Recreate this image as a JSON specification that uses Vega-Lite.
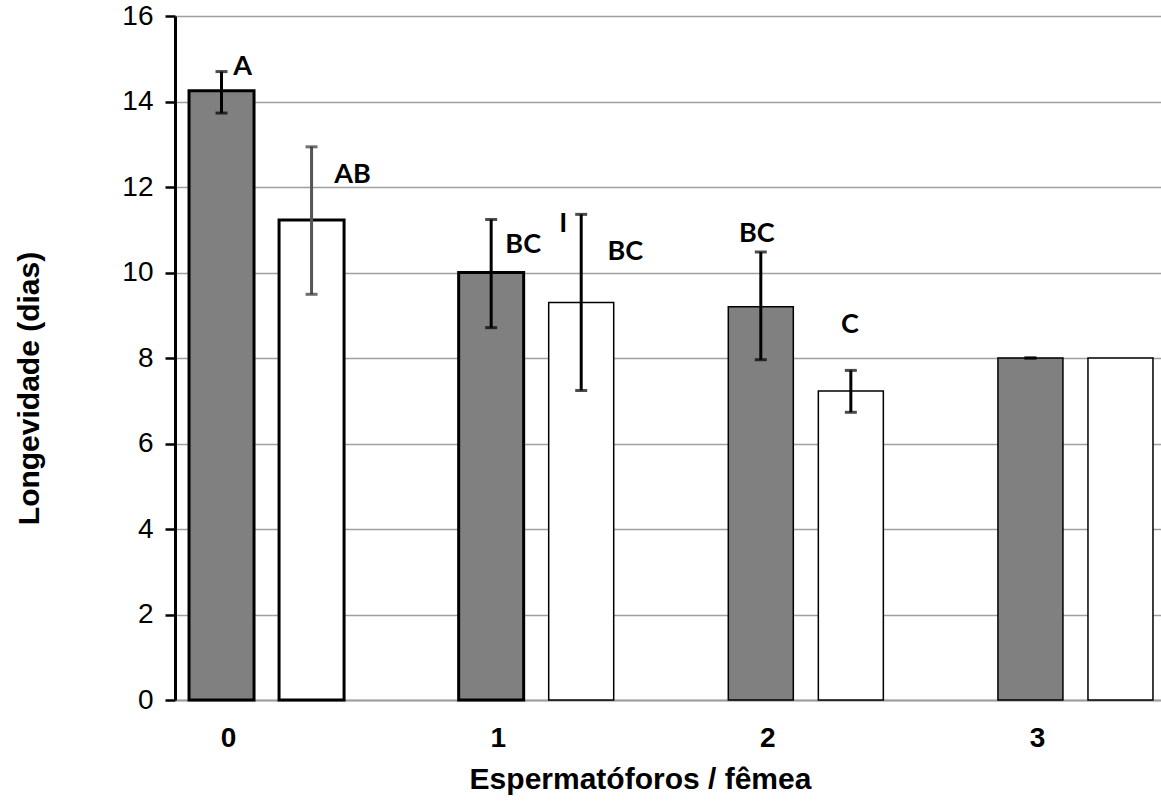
{
  "$schema": "https://vega.github.io/schema/vega-lite/v6.json",
  "width": 992,
  "height": 684,
  "autosize": {"type": "none"},
  "padding": {"left": 175, "top": 16, "right": 0, "bottom": 105},
  "background": "white",
  "config": {
    "view": {"stroke": null},
    "axisY": {
      "titleFont": "Liberation Sans",
      "titleFontSize": 30,
      "titleFontWeight": "bold",
      "titleColor": "black",
      "titleX": -137,
      "titleY": 372,
      "titleAngle": 270,
      "titleBaseline": "alphabetic",
      "titleAlign": "center",
      "labelFont": "Liberation Sans",
      "labelFontSize": 28,
      "labelColor": "black",
      "labelPadding": 12,
      "tickSize": 10,
      "tickWidth": 2.5,
      "tickColor": "black",
      "domainColor": "black",
      "domainWidth": 3,
      "gridColor": "#a0a0a0",
      "gridWidth": 1.5
    },
    "axisX": {
      "titleFont": "Liberation Sans",
      "titleFontSize": 30,
      "titleFontWeight": "bold",
      "titleColor": "black",
      "titleX": 465,
      "titleY": 88,
      "titleBaseline": "alphabetic",
      "titleAlign": "center",
      "labelFont": "Liberation Sans",
      "labelFontSize": 28,
      "labelFontWeight": "bold",
      "labelColor": "black",
      "labelAngle": 0,
      "labelOffset": -38,
      "labelPadding": 24,
      "ticks": false,
      "tickSize": 0,
      "domainColor": "#a0a0a0",
      "domainWidth": 2,
      "grid": false
    }
  },
  "data": {
    "values": [
      {"group": "0", "series": "s1", "mean": 14.25, "low": 13.73, "high": 14.7, "letter": "A"},
      {"group": "0", "series": "s2", "mean": 11.23, "low": 9.49, "high": 12.94, "letter": "AB"},
      {"group": "1", "series": "s1", "mean": 10.0, "low": 8.71, "high": 11.24, "letter": "BC"},
      {"group": "1", "series": "s2", "mean": 9.3, "low": 7.24, "high": 11.36, "letter": "BC"},
      {"group": "2", "series": "s1", "mean": 9.2, "low": 7.96, "high": 10.48, "letter": "BC"},
      {"group": "2", "series": "s2", "mean": 7.23, "low": 6.73, "high": 7.71, "letter": "C"},
      {"group": "3", "series": "s1", "mean": 8.0, "low": 8.0, "high": 8.0, "letter": ""},
      {"group": "3", "series": "s2", "mean": 8.0, "low": null, "high": null, "letter": ""}
    ]
  },
  "encoding": {
    "x": {
      "field": "group",
      "type": "nominal",
      "scale": {"paddingInner": 0.425, "paddingOuter": 0.052},
      "axis": {"title": "Espermatóforos / fêmea"}
    },
    "xOffset": {
      "field": "series",
      "type": "nominal",
      "scale": {"paddingInner": 0.278, "paddingOuter": 0}
    }
  },
  "layer": [
    {
      "mark": {"type": "bar", "stroke": "black"},
      "encoding": {
        "y": {
          "field": "mean",
          "type": "quantitative",
          "scale": {"domain": [0, 16]},
          "axis": {"title": "Longevidade (dias)", "values": [0, 2, 4, 6, 8, 10, 12, 14, 16]}
        },
        "color": {
          "field": "series",
          "type": "nominal",
          "scale": {"range": ["#808080", "#ffffff"]},
          "legend": null
        },
        "strokeWidth": {
          "condition": {"test": "datum.group == '0' || (datum.group == '1' && datum.series == 's1')", "value": 3},
          "value": 1.5
        }
      }
    },
    {
      "mark": {"type": "rule", "strokeWidth": 3},
      "encoding": {
        "y": {"field": "low", "type": "quantitative", "scale": {"domain": [0, 16]}},
        "y2": {"field": "high"},
        "color": {
          "condition": {"test": "datum.group == '0' && datum.series == 's2'", "value": "#555555"},
          "value": "black"
        }
      }
    },
    {
      "mark": {"type": "tick", "size": 12, "thickness": 3},
      "encoding": {
        "y": {"field": "low", "type": "quantitative", "scale": {"domain": [0, 16]}},
        "color": {
          "condition": {"test": "datum.group == '0' && datum.series == 's2'", "value": "#333333"},
          "value": "black"
        }
      }
    },
    {
      "mark": {"type": "tick", "size": 12, "thickness": 3},
      "encoding": {
        "y": {"field": "high", "type": "quantitative", "scale": {"domain": [0, 16]}},
        "color": {
          "condition": {"test": "datum.group == '0' && datum.series == 's2'", "value": "#333333"},
          "value": "black"
        }
      }
    },
    {
      "transform": [{"filter": "datum.group == '0' && datum.series == 's1'"}],
      "mark": {"type": "text", "font": "Lato", "fontSize": 27, "fontWeight": "bold", "color": "black", "baseline": "middle", "align": "center", "dx": 21, "dy": -5},
      "encoding": {"y": {"field": "high", "type": "quantitative", "scale": {"domain": [0, 16]}}, "text": {"field": "letter"}}
    },
    {
      "transform": [{"filter": "datum.group == '0' && datum.series == 's2'"}],
      "mark": {"type": "text", "font": "Lato", "fontSize": 27, "fontWeight": "bold", "color": "black", "baseline": "middle", "align": "center", "dx": 41, "dy": 28},
      "encoding": {"y": {"field": "high", "type": "quantitative", "scale": {"domain": [0, 16]}}, "text": {"field": "letter"}}
    },
    {
      "transform": [{"filter": "datum.group == '1' && datum.series == 's1'"}],
      "mark": {"type": "text", "font": "Lato", "fontSize": 27, "fontWeight": "bold", "color": "black", "baseline": "middle", "align": "center", "dx": 32, "dy": 26},
      "encoding": {"y": {"field": "high", "type": "quantitative", "scale": {"domain": [0, 16]}}, "text": {"field": "letter"}}
    },
    {
      "transform": [{"filter": "datum.group == '1' && datum.series == 's2'"}],
      "mark": {"type": "text", "font": "Lato", "fontSize": 27, "fontWeight": "bold", "color": "black", "baseline": "middle", "align": "center", "dx": -18, "dy": 10},
      "encoding": {"y": {"field": "high", "type": "quantitative", "scale": {"domain": [0, 16]}}, "text": {"value": "I"}}
    },
    {
      "transform": [{"filter": "datum.group == '1' && datum.series == 's2'"}],
      "mark": {"type": "text", "font": "Lato", "fontSize": 27, "fontWeight": "bold", "color": "black", "baseline": "middle", "align": "center", "dx": 44, "dy": 38},
      "encoding": {"y": {"field": "high", "type": "quantitative", "scale": {"domain": [0, 16]}}, "text": {"field": "letter"}}
    },
    {
      "transform": [{"filter": "datum.group == '2' && datum.series == 's1'"}],
      "mark": {"type": "text", "font": "Lato", "fontSize": 27, "fontWeight": "bold", "color": "black", "baseline": "middle", "align": "center", "dx": -4, "dy": -18},
      "encoding": {"y": {"field": "high", "type": "quantitative", "scale": {"domain": [0, 16]}}, "text": {"field": "letter"}}
    },
    {
      "transform": [{"filter": "datum.group == '2' && datum.series == 's2'"}],
      "mark": {"type": "text", "font": "Lato", "fontSize": 27, "fontWeight": "bold", "color": "black", "baseline": "middle", "align": "center", "dx": -1, "dy": -45},
      "encoding": {"y": {"field": "high", "type": "quantitative", "scale": {"domain": [0, 16]}}, "text": {"field": "letter"}}
    }
  ]
}
